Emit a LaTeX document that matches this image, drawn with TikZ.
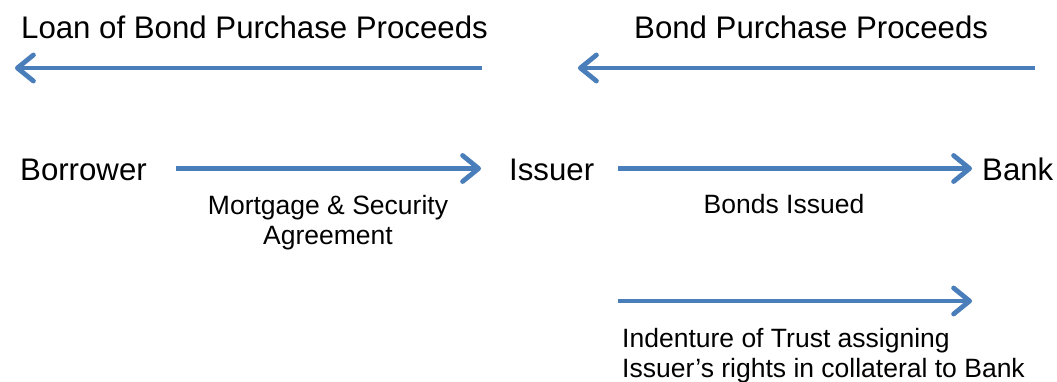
\documentclass[tikz,border=0pt]{standalone}
\usepackage{fontspec}
\setmainfont{Liberation Sans}
\usetikzlibrary{arrows.meta}
\definecolor{arrowblue}{HTML}{4A7EBB}
\begin{document}
\begin{tikzpicture}[x=1pt,y=-1pt,
  big/.style={font=\fontsize{31.2}{36}\selectfont, inner sep=0pt, anchor=base west},
  small/.style={font=\fontsize{26.5}{30}\selectfont, inner sep=0pt, align=center, anchor=base},
  note/.style={font=\fontsize{26.5}{30}\selectfont, inner sep=0pt, align=left, anchor=base west},
  arr/.style={draw=arrowblue, line width=4.8pt,
    -{Straight Barb[length=16pt,width=26pt,line cap=round,line join=round]}},
]
\useasboundingbox (0,0) rectangle (1057,381);
% top labels
\node[big] (loan) at (21,38) {Loan of Bond Purchase Proceeds};
\node[big] (proceeds) at (634,38) {Bond Purchase Proceeds};
% middle row
\node[big] (borrower) at (20,180) {Borrower};
\node[big] (issuer) at (509,180) {Issuer};
\node[big] (bank) at (982,180) {Bank};
% labels (base anchor = baseline of last line)
\node[small] (mortgage) at (328,244) {Mortgage \& Security\\Agreement};
\node[small] (bonds) at (784,213) {Bonds Issued};
\node[note] (indenture) at (622,377) {Indenture of Trust assigning\\Issuer’s rights in collateral to Bank};
% arrow end points
\coordinate (l1) at (482,68);
\coordinate (l2) at (15,68);
\coordinate (r1) at (1035,68);
\coordinate (r2) at (578,68);
\coordinate (m1) at (176,168.5);
\coordinate (m2) at (481,168.5);
\coordinate (n1) at (618,168.5);
\coordinate (n2) at (972,168.5);
\coordinate (b1) at (618,301);
\coordinate (b2) at (972,301);
% arrows
\draw[arr] (l1) -- (l2);
\draw[arr] (r1) -- (r2);
\draw[arr] (m1) -- (m2);
\draw[arr] (n1) -- (n2);
\draw[arr] (b1) -- (b2);
\end{tikzpicture}
\end{document}
